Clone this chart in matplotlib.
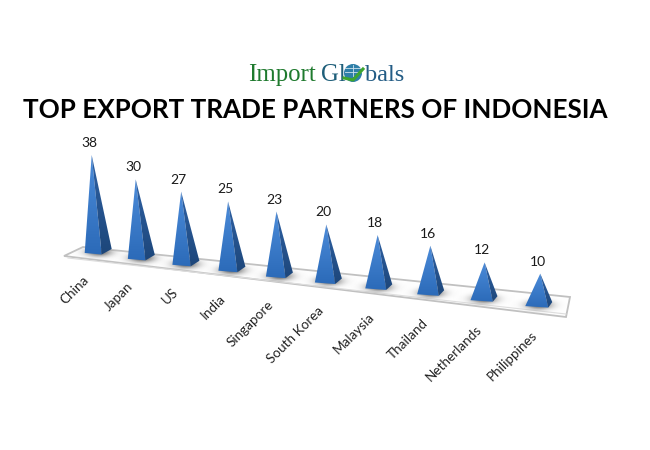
import matplotlib
matplotlib.use('Agg')
import matplotlib.pyplot as plt
from matplotlib.colors import LinearSegmentedColormap
from matplotlib.patches import Circle, Polygon
import numpy as np

# Datos
paises = ['China', 'Japan', 'US', 'India', 'Singapore', 'South Korea',
          'Malaysia', 'Thailand', 'Netherlands', 'Philippines']
valores = [38, 30, 27, 25, 23, 20, 18, 16, 12, 10]
titulo = 'TOP EXPORT TRADE PARTNERS OF INDONESIA'


# Vista en perspectiva: indice de categoria -> posicion en pixeles
def cima_x(i):
    return 91.7 + 44 * i + 0.73 * i * (i - 1)


def base_y(i):
    return 250 + 5.9 * i


def escala(i):
    return 2.5 + 0.05 * i


fig = plt.figure(figsize=(6.5, 4.5), dpi=100)
ax = fig.add_axes([0, 0, 1, 1])
ax.axis('off')

# Piso
piso = Polygon([(64, 256), (83, 247), (570, 297), (566, 317)], closed=True,
               facecolor='white', edgecolor='#c0c0c0', linewidth=1.3, zorder=1)
ax.add_patch(piso)
ax.plot([68, 566], [258, 314], color='#dddddd', lw=0.8, zorder=1)

sombra_cmap = LinearSegmentedColormap.from_list('s', ['#ffffff00', '#505050e0'])
cara_cmap = LinearSegmentedColormap.from_list('c', ['#4c8cda', '#2b6ab8'])
oscuro_cmap = LinearSegmentedColormap.from_list('o', ['#2f62a6', '#1d4679'])

gx, gy = np.meshgrid(np.linspace(-1, 1, 60), np.linspace(-1, 1, 30))
mancha = np.exp(-(gx ** 2 + gy ** 2) * 3)
franja = np.linspace(0, 1, 64).reshape(-1, 1)

for i, valor in enumerate(valores):
    t = i / (len(valores) - 1)
    cx = cima_x(i)
    by = base_y(i)
    top = by - valor * escala(i)
    bx = cx + 6 - 8 * t

    # Sombra sobre el piso
    im = ax.imshow(mancha, cmap=sombra_cmap, vmin=0, vmax=1, zorder=2,
                   extent=(bx - 30, bx + 32, by + 13, by - 9), aspect='auto')
    im.set_clip_path(piso)

    izq = (bx - 13, by + 3)
    frente = (bx + 4 + 6 * t, by + 4.5)
    der = (bx + 14, by - 1)

    # Caras de la piramide con degradado
    for puntos, cmap in [([(cx, top), izq, frente], cara_cmap),
                         ([(cx, top), frente, der], oscuro_cmap)]:
        cara = Polygon(puntos, closed=True, facecolor='none', edgecolor='none', zorder=3)
        ax.add_patch(cara)
        im = ax.imshow(franja, cmap=cmap, vmin=0, vmax=1, zorder=3,
                       extent=(bx - 16, bx + 16, by + 6, top - 1), aspect='auto')
        im.set_clip_path(cara)

    ax.text(cx - 2.5, top - 12, str(valor), ha='center', va='center',
            fontsize=10, family='Lato', color='#1a1a1a', zorder=5)
    ax.text(cx - 9, 274 + 6.1 * i, paises[i], rotation=45, rotation_mode='anchor',
            ha='right', va='top', fontsize=9.7, family='Lato', color='#222222')

# Titulo y logo
ax.text(315.5, 110, titulo, ha='center', va='center', fontsize=18.7,
        fontweight='bold', family='Lato', color='black')
ax.text(248, 81, 'Import', ha='left', va='baseline', fontsize=17.8,
        family='Liberation Serif', color='#1f7a2e')
ax.text(321, 81, 'Gl', ha='left', va='baseline', fontsize=17.8,
        family='Liberation Serif', color='#1f5f7a')
ax.text(365, 81, 'bals', ha='left', va='baseline', fontsize=17.6,
        family='Liberation Serif', color='#235c85')
globo = Circle((353, 73), 9, facecolor='#2f7fa8', edgecolor='none', zorder=4)
ax.add_patch(globo)
for dy in (-5, -1):
    ax.plot([345, 361], [73 + dy, 73 + dy], color='#cfe3ee', lw=0.6, zorder=5)
ax.plot([353, 353], [64.5, 76], color='#cfe3ee', lw=0.6, zorder=5)
ax.plot([344, 353, 363], [78, 80, 69], color='#3ea52f', lw=2.2, zorder=6)

ax.set_xlim(0, 650)
ax.set_ylim(450, 0)
fig.savefig('out.png', dpi=100, facecolor='white')
